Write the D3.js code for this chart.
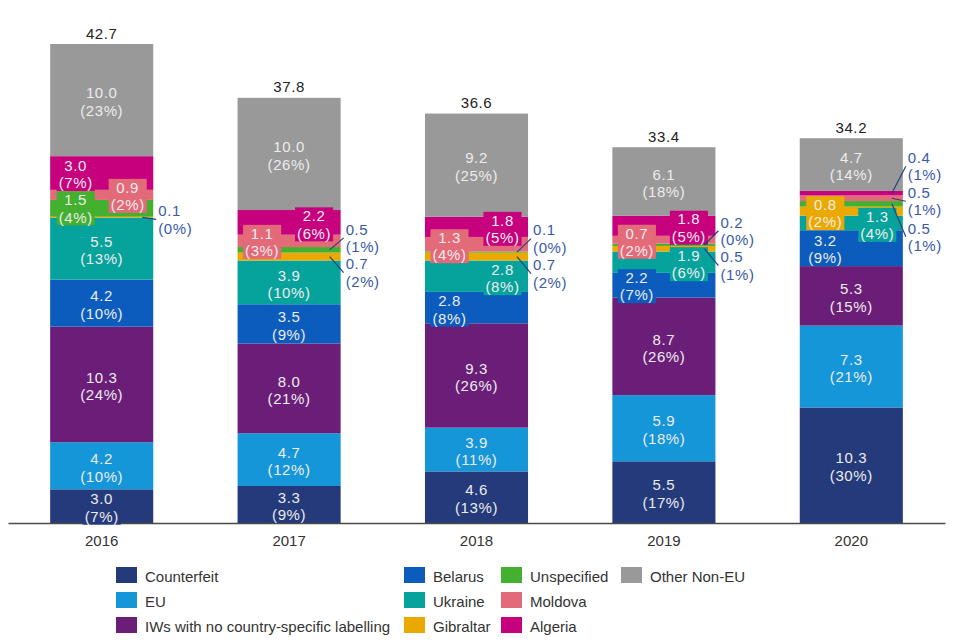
<!DOCTYPE html>
<html lang="en">
<head>
    <meta charset="UTF-8">
    <title>Stacked bars by source, 2016-2020</title>
    <script src="https://d3js.org/d3.v7.min.js"></script>
    <style>
        body {
            margin: 0;
            background: #fff;
            font-family: "Liberation Sans", Arial, sans-serif;
        }
        svg text {
            font-family: "Liberation Sans", Arial, sans-serif;
        }
    </style>
</head>
<body>
    <svg id="chart" width="966" height="643"></svg>

    <script>
        // Data
        const years = ["2016", "2017", "2018", "2019", "2020"];
        const series = ["Counterfeit", "EU", "IWs with no country-specific labelling", "Belarus",
                        "Ukraine", "Gibraltar", "Unspecified", "Moldova", "Algeria", "Other Non-EU"];

        const counterfeit = [3.0, 3.3, 4.6, 5.5, 10.3];
        const eu          = [4.2, 4.7, 3.9, 5.9, 7.3];
        const iws         = [10.3, 8.0, 9.3, 8.7, 5.3];
        const belarus     = [4.2, 3.5, 2.8, 2.2, 3.2];
        const ukraine     = [5.5, 3.9, 2.8, 1.9, 1.3];
        const gibraltar   = [0.1, 0.7, 0.7, 0.5, 0.8];
        const unspecified = [1.5, 0.5, 0.1, 0.2, 0.5];
        const moldova     = [0.9, 1.1, 1.3, 0.7, 0.5];
        const algeria     = [3.0, 2.2, 1.8, 1.8, 0.4];
        const otherNonEU  = [10.0, 10.0, 9.2, 6.1, 4.7];

        // shares shown in brackets (%)
        const counterfeitPct = [7, 9, 13, 17, 30];
        const euPct          = [10, 12, 11, 18, 21];
        const iwsPct         = [24, 21, 26, 26, 15];
        const belarusPct     = [10, 9, 8, 7, 9];
        const ukrainePct     = [13, 10, 8, 6, 4];
        const gibraltarPct   = [0, 2, 2, 1, 2];
        const unspecifiedPct = [4, 1, 0, 0, 1];
        const moldovaPct     = [2, 3, 4, 2, 1];
        const algeriaPct     = [7, 6, 5, 5, 1];
        const otherNonEUPct  = [23, 26, 25, 18, 14];

        const totals = [42.7, 37.8, 36.6, 33.4, 34.2];

        const valueArrays = [counterfeit, eu, iws, belarus, ukraine, gibraltar, unspecified, moldova, algeria, otherNonEU];
        const pctArrays = [counterfeitPct, euPct, iwsPct, belarusPct, ukrainePct, gibraltarPct, unspecifiedPct, moldovaPct, algeriaPct, otherNonEUPct];

        // Styles
        const colors = ["#243a7b", "#1596d8", "#6b1e78", "#0b5cbc", "#06a29c",
                        "#eba900", "#44b02f", "#e36a78", "#c7007d", "#999999"];

        // Label placement tweaks: [dx, dy] from segment centre
        const labelNudge = {
            "2016|Unspecified": [-26, 0], "2016|Moldova": [26, 1], "2016|Algeria": [-26, 1],
            "2017|Moldova": [-27, 1], "2017|Algeria": [25, 2],
            "2018|Belarus": [-27, 2], "2018|Ukraine": [26, 2], "2018|Moldova": [-27, 2], "2018|Algeria": [26, 2],
            "2019|Belarus": [-27, 1], "2019|Ukraine": [25, 2], "2019|Moldova": [-27, 2], "2019|Algeria": [25, 2],
            "2020|Belarus": [-26, 1], "2020|Ukraine": [26, 2], "2020|Gibraltar": [-26, 2]
        };
        // labels drawn outside the bar with a leader line: text dy from segment centre
        const outside = {
            "2016|Gibraltar": 2,
            "2017|Unspecified": -12, "2017|Gibraltar": 16,
            "2018|Unspecified": -13.5, "2018|Gibraltar": 17,
            "2019|Unspecified": -14, "2019|Gibraltar": 17,
            "2020|Algeria": -27, "2020|Moldova": 3, "2020|Unspecified": 33
        };

        const rows = years.map((yr, i) => {
            const r = {year: yr};
            series.forEach((s, k) => { r[s] = valueArrays[k][i]; });
            return r;
        });

        const stacked = d3.stack().keys(series)(rows);

        const svg = d3.select("#chart");

        const x = d3.scaleBand()
            .domain(years)
            .range([8, 945])
            .paddingInner(0.45)
            .paddingOuter(0.225);

        const y = d3.scaleLinear()
            .domain([0, d3.max(totals)])
            .range([523, 44]);

        // Bars
        const layers = svg.append("g")
            .selectAll("g")
            .data(stacked)
            .join("g")
            .attr("fill", (d, k) => colors[k]);

        layers.selectAll("rect")
            .data(d => d)
            .join("rect")
            .attr("x", d => x(d.data.year))
            .attr("y", d => y(d[1]))
            .attr("width", x.bandwidth())
            .attr("height", d => y(d[0]) - y(d[1]));

        // Axis
        const axis = svg.append("g")
            .attr("transform", "translate(0,523)")
            .call(d3.axisBottom(x).tickSize(0).tickSizeOuter(0).tickPadding(12));
        axis.select(".domain").attr("stroke", "#4a4a4a").attr("stroke-width", 1.5);
        axis.selectAll("text").attr("font-size", 15).attr("fill", "#333");

        // Totals
        svg.append("g")
            .selectAll("text")
            .data(years)
            .join("text")
            .attr("x", d => x(d) + x.bandwidth() / 2)
            .attr("y", (d, i) => y(d3.sum(valueArrays, a => a[i])) - 11)
            .attr("text-anchor", "middle")
            .attr("dominant-baseline", "central")
            .attr("font-size", 15)
            .attr("letter-spacing", "0.6px")
            .attr("fill", "#222")
            .text((d, i) => totals[i].toFixed(1));

        // Data labels
        const labelG = svg.append("g");
        const leaderG = svg.append("g");
        stacked.forEach((layer, k) => {
            layer.forEach((d, i) => {
                const yr = years[i];
                const key = yr + "|" + series[k];
                const segC = (y(d[0]) + y(d[1])) / 2;
                const line1 = valueArrays[k][i].toFixed(1);
                const line2 = "(" + pctArrays[k][i] + "%)";
                const right = x(yr) + x.bandwidth();

                if (key in outside) {
                    const ty = segC + outside[key];
                    leaderG.append("line")
                        .attr("x1", right - 11).attr("y1", segC)
                        .attr("x2", right + 3).attr("y2", ty)
                        .attr("stroke", "#2a3f80")
                        .attr("stroke-width", 1.2);
                    const t = leaderG.append("text")
                        .attr("font-size", 15)
                        .attr("letter-spacing", "0.6px")
                        .attr("fill", "#3a5aa8");
                    t.append("tspan").attr("x", right + 5).attr("y", ty - 8.75)
                        .attr("dominant-baseline", "central").text(line1);
                    t.append("tspan").attr("x", right + 5).attr("y", ty + 8.75)
                        .attr("dominant-baseline", "central").text(line2);
                    return;
                }

                const nudge = labelNudge[key] || [0, 1.5];
                const cx = x(yr) + x.bandwidth() / 2 + nudge[0];
                const cy = segC + nudge[1];

                const g = labelG.append("g");
                const box = g.append("rect").attr("fill", colors[k]);
                const t = g.append("text")
                    .attr("text-anchor", "middle")
                    .attr("font-size", 15)
                    .attr("letter-spacing", "0.6px")
                    .attr("fill", "#ececec");
                const a = t.append("tspan").attr("x", cx).attr("y", cy - 8.75)
                    .attr("dominant-baseline", "central").text(line1);
                const b = t.append("tspan").attr("x", cx).attr("y", cy + 8.75)
                    .attr("dominant-baseline", "central").text(line2);
                const w = Math.max(a.node().getComputedTextLength(), b.node().getComputedTextLength()) + 4;
                box.attr("x", cx - w / 2).attr("y", cy - 17)
                    .attr("width", w).attr("height", 34);
            });
        });

        // Legend
        const legendCols = [[0, 1, 2], [3, 4, 5], [6, 7, 8], [9]];
        const colX = [116, 404, 501, 621];
        const rowY = [575, 600, 625];
        const legend = svg.append("g");
        legendCols.forEach((col, c) => {
            col.forEach((k, r) => {
                legend.append("rect")
                    .attr("x", colX[c]).attr("y", rowY[r] - 8)
                    .attr("width", 21).attr("height", 16)
                    .attr("fill", colors[k]);
                legend.append("text")
                    .attr("x", colX[c] + 29).attr("y", rowY[r] + 1)
                    .attr("dominant-baseline", "central")
                    .attr("font-size", 15)
                    .attr("fill", "#333")
                    .text(series[k]);
            });
        });
    </script>
</body>
</html>
